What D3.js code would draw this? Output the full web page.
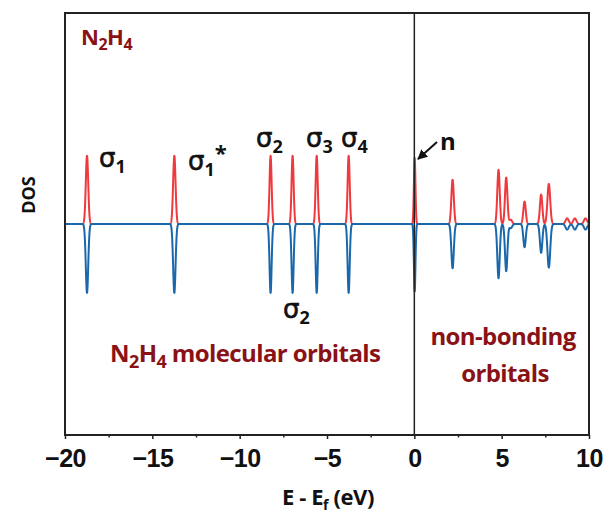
<!DOCTYPE html>
<html>
<head>
<meta charset="utf-8">
<script src="https://cdn.jsdelivr.net/npm/d3@7"></script>
<style>
  html, body { margin: 0; padding: 0; background: #fff; }
  svg { display: block; }
</style>
</head>
<body>
<svg id="chart" width="607" height="517"></svg>
<script>
// Energy levels (eV, relative to E_f) and their spin-up / spin-down weights
const levelEnergies = [-18.74, -13.74, -8.23, -6.97, -5.59, -3.76, 0.02, 2.19, 4.82, 5.26, 5.52, 6.31, 7.26, 7.70, 8.75, 9.19, 9.80];
const spinUp        = [0.97, 0.97, 0.97, 0.97, 0.97, 0.97, 0.94, 0.63, 0.77, 0.66, 0.06, 0.32, 0.42, 0.57, 0.08, 0.08, 0.08];
const spinDown      = [0.98, 0.98, 0.98, 0.98, 0.98, 0.98, 0.96, 0.63, 0.77, 0.67, 0.06, 0.33, 0.41, 0.62, 0.08, 0.08, 0.08];
const levelWidths   = [0.07, 0.07, 0.06, 0.06, 0.06, 0.06, 0.045, 0.07, 0.07, 0.07, 0.08, 0.07, 0.07, 0.08, 0.09, 0.09, 0.09];

const xTicks = [-20, -15, -10, -5, 0, 5, 10];
const xMinorTicks = [-17.5, -12.5, -7.5, -2.5, 2.5, 7.5];

const svg = d3.select("#chart");
const margin = { left: 65, top: 13, right: 18, bottom: 82 };
const W = 607, H = 517;
const iw = W - margin.left - margin.right;
const ih = H - margin.top - margin.bottom;

const x = d3.scaleLinear().domain([-20, 10]).range([margin.left, margin.left + iw]);
const y = d3.scaleLinear().domain([-3, 3]).range([margin.top + ih, margin.top]);

// Gaussian-broadened density of states built from the level list
function dos(weights) {
  const pts = [];
  for (let e = -20; e <= 10.0001; e += 0.005) {
    let v = 0;
    for (let i = 0; i < levelEnergies.length; i++) {
      const d = (e - levelEnergies[i]) / levelWidths[i];
      if (Math.abs(d) < 6) v += weights[i] * Math.exp(-0.5 * d * d);
    }
    pts.push([e, v]);
  }
  return pts;
}

const line = d3.line().x(d => x(d[0])).y(d => y(d[1]));

svg.append("defs").append("clipPath").attr("id", "plotclip")
  .append("rect").attr("x", margin.left).attr("y", margin.top).attr("width", iw).attr("height", ih);

const plot = svg.append("g").attr("clip-path", "url(#plotclip)");

plot.append("path")
  .datum(dos(spinUp))
  .attr("d", line)
  .attr("fill", "none")
  .attr("stroke", "#f0393c")
  .attr("stroke-width", 2)
  .attr("stroke-linejoin", "round");

plot.append("path")
  .datum(dos(spinDown).map(d => [d[0], -d[1]]))
  .attr("d", line)
  .attr("fill", "none")
  .attr("stroke", "#1a68ab")
  .attr("stroke-width", 2)
  .attr("stroke-linejoin", "round");

// Fermi level
svg.append("line")
  .attr("x1", x(0)).attr("x2", x(0))
  .attr("y1", margin.top).attr("y2", margin.top + ih)
  .attr("stroke", "#222").attr("stroke-width", 1.5);

// Frame
svg.append("rect")
  .attr("x", margin.left).attr("y", margin.top)
  .attr("width", iw).attr("height", ih)
  .attr("fill", "none").attr("stroke", "#222").attr("stroke-width", 2);

// X axis
const xAxis = d3.axisBottom(x).tickValues(xTicks).tickSize(4).tickPadding(10).tickFormat(d3.format("d"));
const gx = svg.append("g").attr("transform", `translate(0,${margin.top + ih})`).call(xAxis);
gx.select(".domain").remove();
gx.selectAll(".tick line").attr("stroke", "#222").attr("stroke-width", 1.5);
gx.selectAll(".tick text")
  .attr("font-family", "Liberation Sans, Arial, sans-serif")
  .attr("font-weight", "bold")
  .attr("font-size", 25)
  .attr("letter-spacing", -0.5)
  .attr("fill", "#111");

const gxm = svg.append("g").attr("transform", `translate(0,${margin.top + ih})`)
  .call(d3.axisBottom(x).tickValues(xMinorTicks).tickSize(2.5).tickFormat(""));
gxm.select(".domain").remove();
gxm.selectAll(".tick line").attr("stroke", "#222").attr("stroke-width", 1.5);

const labelFont = "'Open Sans', Lato, sans-serif";
const heavy = 700;

// Axis titles
const xt = svg.append("text")
  .attr("x", 328).attr("y", 505)
  .attr("text-anchor", "middle")
  .attr("font-family", labelFont).attr("font-weight", heavy).attr("font-size", 22)
  .attr("letter-spacing", -0.4)
  .attr("fill", "#111");
xt.append("tspan").text("E - E");
xt.append("tspan").attr("font-size", 14).attr("dy", 5).text("f");
xt.append("tspan").attr("dy", -5).text(" (eV)");

svg.append("text")
  .attr("transform", "translate(35,195) rotate(-90)")
  .attr("text-anchor", "middle")
  .attr("font-family", labelFont).attr("font-weight", heavy).attr("font-size", 18)
  .attr("fill", "#111")
  .text("DOS");

// Dark-red annotations
const darkRed = "#8a1216";
function chem(sel, parts, subSize, shift) {
  parts.forEach(p => {
    if (p.sub) sel.append("tspan").attr("font-size", subSize).attr("dy", shift).text(p.t);
    else sel.append("tspan").attr("dy", p.back ? -shift : null).text(p.t);
  });
}

const t1 = svg.append("text").attr("x", 81).attr("y", 45)
  .attr("font-family", labelFont).attr("font-weight", heavy).attr("font-size", 22)
  .attr("letter-spacing", -0.5).attr("fill", darkRed);
chem(t1, [{t: "N"}, {t: "2", sub: true}, {t: "H", back: true}, {t: "4", sub: true}], 16, 5);

const t2 = svg.append("text").attr("x", 110).attr("y", 362)
  .attr("font-family", labelFont).attr("font-weight", heavy).attr("font-size", 24)
  .attr("letter-spacing", -0.6).attr("fill", darkRed);
chem(t2, [{t: "N"}, {t: "2", sub: true}, {t: "H", back: true}, {t: "4", sub: true}, {t: " molecular orbitals", back: true}], 18, 6);

svg.append("text").attr("x", 503).attr("y", 345).attr("text-anchor", "middle")
  .attr("font-family", labelFont).attr("font-weight", heavy).attr("font-size", 24)
  .attr("letter-spacing", -0.6).attr("fill", darkRed)
  .text("non-bonding");
svg.append("text").attr("x", 505).attr("y", 382).attr("text-anchor", "middle")
  .attr("font-family", labelFont).attr("font-weight", heavy).attr("font-size", 24)
  .attr("letter-spacing", -0.6).attr("fill", darkRed)
  .text("orbitals");

// Orbital labels
const sigmaLabels = [
  { x: 99,  y: 167, sub: "1", star: false },
  { x: 188, y: 170, sub: "1", star: true },
  { x: 256, y: 147, sub: "2", star: false },
  { x: 306, y: 147, sub: "3", star: false },
  { x: 341, y: 147, sub: "4", star: false },
  { x: 283, y: 318, sub: "2", star: false }
];
sigmaLabels.forEach(s => {
  const t = svg.append("text").attr("x", s.x).attr("y", s.y).attr("fill", "#111");
  t.append("tspan").attr("font-family", "DejaVu Sans, sans-serif").attr("font-size", 26)
    .attr("stroke", "#111").attr("stroke-width", 0.6).text("σ");
  t.append("tspan").attr("font-family", labelFont).attr("font-weight", heavy).attr("font-size", 18).attr("dy", 6).text(s.sub);
  if (s.star) t.append("tspan").attr("font-family", labelFont).attr("font-weight", heavy).attr("font-size", 22).attr("dy", -15).text("*");
});

svg.append("text").attr("x", 440).attr("y", 150)
  .attr("font-family", labelFont).attr("font-weight", heavy).attr("font-size", 24).attr("fill", "#111")
  .text("n");

// Arrow pointing at the n level
svg.append("defs").append("marker")
  .attr("id", "arrowhead").attr("viewBox", "0 0 10 10").attr("refX", 9).attr("refY", 5)
  .attr("markerWidth", 5).attr("markerHeight", 5).attr("orient", "auto")
  .append("path").attr("d", "M0,0 L10,5 L0,10 z").attr("fill", "#111");
svg.append("line")
  .attr("x1", 437).attr("y1", 142).attr("x2", 418).attr("y2", 159)
  .attr("stroke", "#111").attr("stroke-width", 2)
  .attr("marker-end", "url(#arrowhead)");
</script>
</body>
</html>
